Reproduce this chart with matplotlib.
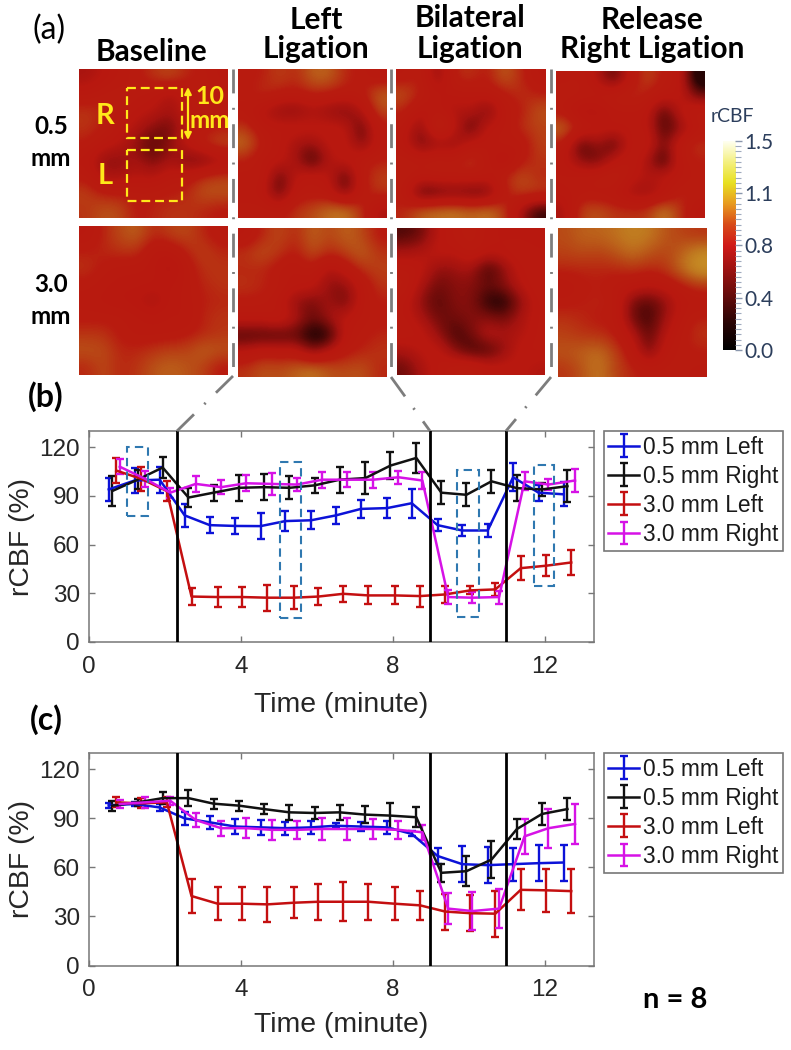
import matplotlib
matplotlib.use("Agg")
import matplotlib.pyplot as plt
import numpy as np
from matplotlib.colors import LinearSegmentedColormap
from matplotlib.patches import Rectangle

W, H = 791, 1050
SERIES = ["0.5 mm Left", "0.5 mm Right", "3.0 mm Left", "3.0 mm Right"]
COLORS = ["#0c12d8", "#111111", "#c40f10", "#d612e6"]
EVENTS = [2.31, 8.97, 10.97]

# time of each sample (minutes), one list per series
T_L05 = [0.52,1.20,1.86,2.52,3.18,3.85,4.52,5.17,5.85,6.50,7.16,7.85,8.50,9.18,9.83,10.50,11.17,11.84,12.50]
T_R05 = [0.61,1.28,1.94,2.62,3.28,3.95,4.61,5.28,5.94,6.60,7.28,7.94,8.62,9.28,9.94,10.60,11.27,11.93,12.60]
T_L30 = [0.72,1.38,2.05,2.70,3.39,4.04,4.70,5.39,6.04,6.70,7.36,8.05,8.72,9.38,10.04,10.70,11.37,12.04,12.70]
T_R30 = [0.81,1.48,2.14,2.81,3.48,4.14,4.81,5.48,6.14,6.80,7.48,8.15,8.78,9.46,10.10,10.80,11.47,12.10,12.80]

# panel (b)
B_L05 = [94,99.5,100,78,72,71.5,71.4,74.5,75,78,82,82.5,85.5,72,68.7,68.7,101.5,92,91]
B_L05_E = [7,8,8,7,5,5,8,6,5.5,5,5.5,6,9,3.5,3.5,4,8.5,5,7.5]
B_R05 = [93,100,107.5,89,92,95,95.4,95,96.5,100,101,108.7,113.4,92,90.7,99,94.8,94,96]
B_R05_E = [9,6,6.5,6,5,8,8,7,4.5,8,10,8.5,9,7,7,7,8,4,10]
B_L30 = [105.6,100.5,93,28,27.7,27.7,27.3,27.3,28,29.7,28.7,28.7,28.3,29.3,31.8,32.4,45.5,47,49]
B_L30_E = [7.5,7.5,6,5,6,6,8,7,5.5,5,5.5,5.5,6.5,5,2.5,4,7.5,6.5,7.5]
B_R30 = [108,100.5,92,97.4,95.4,97.8,97.4,97,100,100,100,101.5,99.5,27.7,27.3,27.7,99,97,99.5]
B_R30_E = [4.5,5,3,5,4.5,5,7,4,5,4.5,5,4,5,4.5,3.5,4,5.5,3.5,7]

# panel (c)
C_L05 = [98,98.8,96.7,90,87.6,85,84.5,84,84.5,85.5,85,84.5,80.5,67,62,61.4,62,62.6,63]
C_L05_E = [1.5,1.5,2,4,4,4.5,4.5,4,4,1.5,3,4,1.5,5,11,11,10,11,11]
C_R05 = [97.8,99.8,102.4,102.4,99,97.8,95.7,93.7,93.3,93.7,92.3,91.7,90.7,56.7,57.7,64.8,83.5,92.7,95.7]
C_R05_E = [3,2,3.5,5,3,3,3,4.5,3.5,4.5,5,8,6,5.5,9,11.5,6,6.5,6.5]
C_L30 = [99.8,99.2,99.8,42.5,37.8,37.8,37.4,38.4,39,39,39,37.8,36.8,33,32,31.7,46.3,46,45.5]
C_L30_E = [3,3,3,10.5,10,10,10.5,9.5,11,12,11,10,9,11,11,14,12.5,13,13.5]
C_R30 = [98.8,99.8,100.8,89,84,84,83,83,83.5,83.5,83.5,83,81.5,34.8,33.3,34.8,79,84,86.6]
C_R30_E = [2.5,3.5,2.5,4.5,4.5,6,6,5.5,6.5,6.5,6,5.5,4.5,9.5,11.5,12,10.5,12,12.5]

# dashed regions of panel (b): t0, t1, low, high
REGION_T0 = [1.00, 5.02, 9.70, 11.72]
REGION_T1 = [1.56, 5.58, 10.26, 12.25]
REGION_LO = [77.5, 14.8, 15.4, 34.5]
REGION_HI = [120.4, 111, 106, 109]

# rCBF maps, read on a coarse 9x9 grid
M05_BASE = [[.62,.68,.75,.78,.85,.9,.82,.78,.72],[.72,.78,.8,.75,.72,.62,.72,.8,.78],[.85,.82,.75,.7,.68,.6,.72,.78,.8],
            [.85,.8,.72,.65,.55,.5,.68,.75,.78],[.8,.72,.68,.55,.45,.55,.72,.85,.92],[.72,.55,.55,.62,.5,.62,.5,.48,.6],
            [.78,.62,.62,.68,.65,.75,.75,.85,.88],[.88,.8,.8,.78,.78,.8,.82,.92,.92],[.85,.92,.9,.78,.82,.85,.85,.82,.78]]
M05_LEFT = [[.78,.8,.88,.82,.95,.95,.82,.78,.72],[.78,.85,.8,.78,.82,.8,.78,.78,.95],[.75,.65,.55,.52,.62,.55,.5,.65,.9],
            [.85,.72,.72,.75,.72,.72,.7,.45,.78],[.98,.78,.72,.6,.58,.7,.72,.5,.75],[.8,.72,.72,.62,.38,.65,.72,.78,.8],
            [.75,.78,.45,.7,.75,.7,.42,.78,.88],[.75,.72,.45,.75,.75,.72,.5,.78,.85],[.78,.8,.78,.85,.9,.98,1.0,.85,.62]]
M05_BILAT = [[.75,.82,.55,.82,.85,.78,.95,.82,.72],[.92,.8,.72,.72,.72,.75,.78,.85,.8],[.82,.68,.72,.62,.68,.48,.75,.78,.92],
             [.75,.52,.95,.72,.42,.72,.72,.85,.88],[.72,.48,.58,.55,.72,.72,.78,.72,.88],[.8,.78,.82,.78,.88,.75,.6,.78,.85],
             [.8,.75,.78,.78,.78,.75,.82,.92,.82],[.78,.4,.45,.48,.45,.45,.78,.88,.88],[.82,.95,.98,1.0,.95,1.0,.88,.6,.4]]
M05_REL = [[.75,.78,.65,.45,.72,.9,.78,.72,.3],[.8,.78,.78,.82,.85,.8,.72,.72,.5],[.75,.62,.62,.72,.72,.72,.42,.7,.8],
           [.98,.8,.75,.72,.72,.72,.42,.55,.72],[.78,.42,.6,.42,.72,.78,.5,.78,.85],[.72,.55,.48,.7,.78,.62,.38,.75,.8],
           [.75,.78,.82,.85,.72,.65,.72,.72,.78],[.72,.75,.72,.72,.6,.58,.65,.82,.8],[.62,.88,.92,.85,.85,.85,1.02,.85,.7]]
M30_BASE = [[.72,.82,.9,.95,.82,.88,.9,.82,.75],[.8,.82,.85,.85,.72,.72,.82,.88,.82],[.85,.78,.75,.75,.72,.62,.75,.85,.85],
            [.78,.75,.72,.72,.72,.7,.75,.82,.85],[.75,.72,.7,.68,.6,.72,.75,.8,.82],[.78,.78,.78,.75,.72,.75,.72,.82,.85],
            [.85,.85,.78,.75,.75,.75,.78,.82,.85],[.92,.9,.82,.82,.85,.88,.88,.95,.92],[.82,.9,.82,.85,.92,.95,.92,.88,.78]]
M30_LEFT = [[.72,.82,.9,.82,.95,.88,.95,.9,.78],[.85,.92,.85,.78,.92,.82,.88,.95,.85],[.82,.82,.75,.72,.78,.62,.72,.85,.88],
            [.85,.82,.78,.72,.72,.55,.55,.72,.85],[.78,.78,.72,.55,.5,.62,.48,.75,.8],[.72,.72,.78,.65,.48,.6,.72,.75,.78],
            [.42,.42,.42,.45,.32,.35,.72,.78,.82],[.7,.78,.75,.75,.55,.7,.78,.82,.85],[.85,.92,.9,.95,1.0,.92,.9,.92,.82]]
M30_BILAT = [[.45,.5,.68,.75,.8,.72,.7,.7,.68],[.62,.65,.72,.68,.78,.7,.72,.75,.72],[.75,.72,.55,.58,.62,.4,.55,.72,.72],
             [.8,.62,.5,.55,.55,.5,.55,.68,.75],[.72,.55,.45,.55,.55,.38,.35,.55,.72],[.72,.62,.5,.5,.55,.55,.5,.62,.72],
             [.75,.72,.58,.42,.5,.68,.62,.65,.72],[.62,.7,.72,.55,.42,.42,.55,.72,.72],[.5,.62,.72,.78,.82,.72,.72,.7,.65]]
M30_REL = [[.9,.95,.95,.98,1.02,1.0,.92,.88,.85],[.88,.9,.88,.92,.98,.92,.88,.95,1.05],[.82,.82,.82,.82,.85,.82,.85,.98,1.08],
           [.72,.78,.8,.75,.72,.68,.72,.78,.85],[.78,.8,.82,.78,.5,.45,.55,.72,.72],[.85,.82,.78,.78,.5,.42,.6,.75,.82],
           [.88,.85,.85,.8,.68,.45,.68,.78,.85],[.92,.95,.98,.88,.75,.5,.75,.78,.8],[.85,.92,1.0,.88,.82,.78,.78,.78,.75]]

CB_TICKS = [0.0, 0.375, 0.75, 1.125, 1.5]
CB_LABELS = ["0.0", "0.4", "0.8", "1.1", "1.5"]

cmap_bar = LinearSegmentedColormap.from_list("rcbf_bar", [
    (0.0, "#000000"), (0.13, "#2a0505"), (0.27, "#6a0c0c"), (0.5, "#d01a18"), (0.6, "#d84a18"),
    (0.7, "#e89a20"), (0.8, "#e8e020"), (0.9, "#f4f080"), (1.0, "#fffff0")])
cmap_map = LinearSegmentedColormap.from_list("rcbf_map", [
    (0.0, "#000000"), (0.267, "#2e0505"), (0.333, "#6e0c0a"), (0.4, "#a31310"), (0.453, "#b8180f"),
    (0.533, "#b81c10"), (0.6, "#b84a16"), (0.667, "#c07a20"), (0.733, "#cc9a28"), (1.0, "#fffff0")])

fig = plt.figure(figsize=(W / 100, H / 100), dpi=100, facecolor="white")
plt.rcParams["font.family"] = ["Liberation Sans", "DejaVu Sans"]


def axes_px(x0, y0, x1, y1, **kw):
    return fig.add_axes([x0 / W, 1 - y1 / H, (x1 - x0) / W, (y1 - y0) / H], **kw)


# heat maps
PANELS = [(M05_BASE, 79, 69, 228, 218), (M05_LEFT, 238, 69, 387, 218), (M05_BILAT, 396, 69, 546, 218), (M05_REL, 556, 71, 705, 218),
          (M30_BASE, 79, 226, 228, 375), (M30_LEFT, 238, 228, 387, 377), (M30_BILAT, 397, 228, 545, 375), (M30_REL, 558, 228, 707, 377)]
for grid, x0, y0, x1, y1 in PANELS:
    a = axes_px(x0, y0, x1, y1)
    a.imshow(np.array(grid), cmap=cmap_map, vmin=0, vmax=1.5, interpolation="bicubic", aspect="auto")
    a.axis("off")

# colour bar
cax = axes_px(722.5, 141, 735, 350)
cax.imshow(np.linspace(1.5, 0, 256)[:, None], cmap=cmap_bar, vmin=0, vmax=1.5, aspect="auto", extent=[0, 1, 0, 1.5])
cax.set_xticks([])
cax.yaxis.tick_right()
cax.set_yticks(CB_TICKS)
cax.set_yticklabels(CB_LABELS, fontsize=15, color="#2c3e5c", family="Lato")
cax.set_yticks(np.arange(0, 1.51, 0.0375), minor=True)
cax.tick_params(axis="y", which="major", length=5, width=1, color="#8a97ad", pad=2)
cax.tick_params(axis="y", which="minor", length=4, width=0.8, color="#a0abbe")
for s in cax.spines.values():
    s.set_visible(False)

# line panels
PLOTS = [
    (89, 431, 594, 642, [(T_L05, B_L05, B_L05_E), (T_R05, B_R05, B_R05_E), (T_L30, B_L30, B_L30_E), (T_R30, B_R30, B_R30_E)], True, 705),
    (89, 753, 594, 965.5, [(T_L05, C_L05, C_L05_E), (T_R05, C_R05, C_R05_E), (T_L30, C_L30, C_L30_E), (T_R30, C_R30, C_R30_E)], False, 1025),
]
for x0, y0, x1, y1, data, regions, xl_y in PLOTS:
    ax = axes_px(x0, y0, x1, y1)
    for (t, v, e), c, lab in zip(data, COLORS, SERIES):
        ax.errorbar(t, v, yerr=e, color=c, lw=1.8, elinewidth=1.7, capsize=2.6, capthick=1.7, label=lab, zorder=3)
    for ev in EVENTS:
        ax.axvline(ev, color="black", lw=2, zorder=4)
    if regions:
        for a0, a1, lo, hi in zip(REGION_T0, REGION_T1, REGION_LO, REGION_HI):
            ax.add_patch(Rectangle((a0, lo), a1 - a0, hi - lo, fill=False, ec="#2f78b0", lw=1.5, ls=(0, (4, 2.5)), zorder=5))
    ax.set_xlim(0, 13.3)
    ax.set_ylim(0, 130)
    ax.set_xticks([0, 4, 8, 12])
    ax.set_yticks([0, 30, 60, 90, 120])
    ax.tick_params(direction="in", top=True, right=True, length=4, width=1, color="#777777",
                   labelsize=17.5, labelcolor="#262626")
    ax.tick_params(axis="x", pad=10)
    ax.tick_params(axis="y", pad=6.5)
    for s in ax.spines.values():
        s.set_color("#777777")
        s.set_linewidth(1.1)
    ax.set_xlabel("Time (minute)", fontsize=20.4, color="#262626", va="center")
    ax.xaxis.set_label_coords(0.5, -(xl_y - y1) / (y1 - y0))
    ax.set_ylabel("rCBF (%)", fontsize=20.4, color="#262626", va="center")
    ax.yaxis.set_label_coords(-(x0 - 22) / (x1 - x0), 0.5)
    leg = ax.legend(loc="upper left", bbox_to_anchor=((603.7 - x0) / (x1 - x0), 1.0), borderaxespad=0,
                    fontsize=16.4, fancybox=False, framealpha=1, edgecolor="#777777", handlelength=1.36,
                    handletextpad=0.15, labelspacing=0.27, borderpad=0.2)
    leg.get_frame().set_linewidth(1.2)
    for txt in leg.get_texts():
        txt.set_color("#1a1a1a")

# overlay in pixel coordinates
ov = fig.add_axes([0, 0, 1, 1], facecolor="none")
ov.set_xlim(0, W)
ov.set_ylim(H, 0)
ov.axis("off")


def label(x, y, s, size=21.5, color="black", weight="bold", fam="Lato"):
    ov.text(x, y, s, ha="center", va="center", fontsize=size, color=color, fontweight=weight, family=fam)


label(49, 30, "(a)", 23, weight="normal")
label(152, 52, "Baseline")
label(316, 20, "Left")
label(316, 49, "Ligation")
label(470, 18, "Bilateral")
label(470, 49, "Ligation")
label(652, 20, "Release")
label(652, 49, "Right Ligation")
label(51, 127, "0.5", 17.5)
label(51, 158, "mm", 17.5)
label(51, 285, "3.0", 17.5)
label(51, 316, "mm", 17.5)
label(46, 397, "(b)", 23)
label(46, 720, "(c)", 23)
label(675, 1000, "n = 8", 21)
label(732, 117, "rCBF", 14, color="#2c3e5c", weight="normal")

YEL = "#ffe81a"
for rx0, ry0, rx1, ry1 in [(127, 88, 182, 138), (127, 150, 182, 201)]:
    ov.add_patch(Rectangle((rx0, ry0), rx1 - rx0, ry1 - ry0, fill=False, ec=YEL, lw=1.6, ls=(0, (4, 2.2))))
label(105, 116, "R", 21, YEL)
label(105, 176, "L", 21, YEL)
label(210, 96, "10", 18, YEL)
label(210, 120, "mm", 17.5, YEL)
ov.annotate("", xy=(188, 87), xytext=(188, 140), arrowprops=dict(arrowstyle="<|-|>", color=YEL, lw=1.6, shrinkA=0, shrinkB=0, mutation_scale=10))

GR = "#7d7d7d"
DASHDOT = (0, (8.6, 5.2, 0.7, 5.2))
for sx in [232.5, 391, 551]:
    ov.plot([sx, sx], [69, 370], color=GR, lw=2, ls=DASHDOT)
for (xa, ya), (xb, yb) in [((233, 376), (177, 431)), ((391, 377), (430, 431)), ((551, 377), (506, 431))]:
    ov.plot([xa, xb], [ya, yb], color=GR, lw=2, ls=DASHDOT)

fig.savefig("out.png", dpi=100, facecolor="white")
